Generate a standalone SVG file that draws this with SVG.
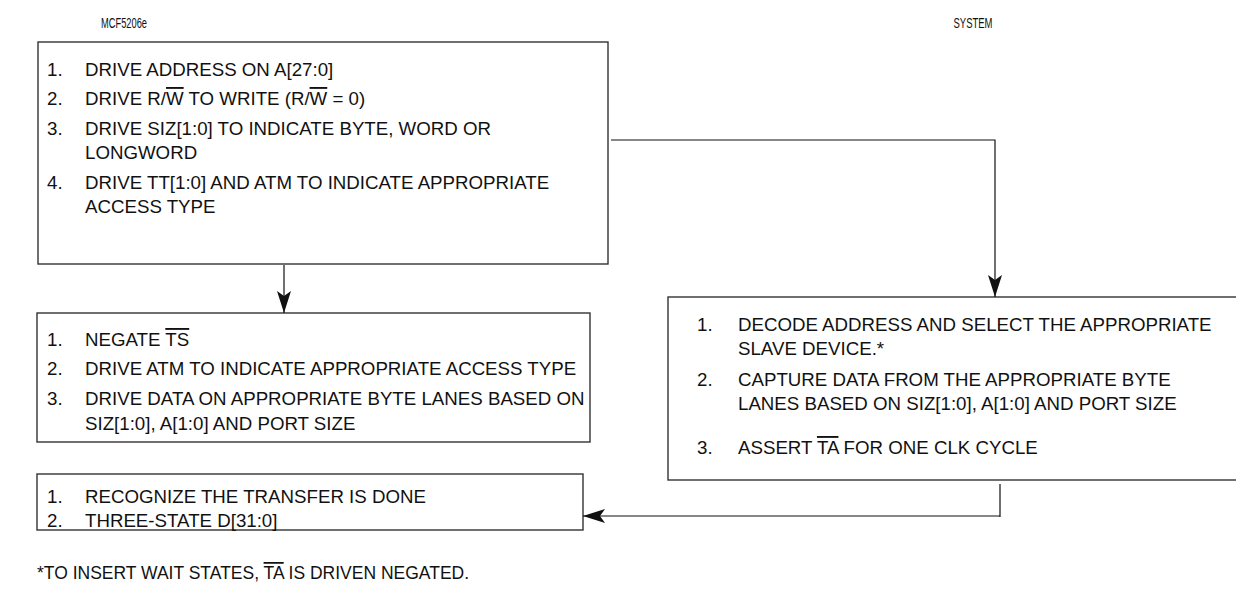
<svg xmlns="http://www.w3.org/2000/svg" width="1236" height="599" viewBox="0 0 1236 599">
  <style>
    .box { fill: #fff; stroke: #333; stroke-width: 1.4; }
    .t { font-family: "Liberation Sans", Arial, sans-serif; font-size: 18.7px; fill: #111; }
    .note { font-family: "Liberation Sans", Arial, sans-serif; font-size: 17.5px; fill: #111; }
    .hdr { font-family: "Liberation Sans", Arial, sans-serif; font-size: 15.5px; fill: #111; text-anchor: middle; }
    .ov { text-decoration: overline; }
    .wire { fill: none; stroke: #111; stroke-width: 1.2; }
  </style>
  <defs>
    <marker id="arrow" viewBox="0 0 22 14" refX="22" refY="7" markerWidth="22" markerHeight="14" markerUnits="userSpaceOnUse" orient="auto">
      <path d="M0,0 L22,7 L0,14 L5,7 Z" fill="#111"/>
    </marker>
  </defs>

  <rect width="1236" height="599" fill="#fff"/>

  <!-- column headings, set in a narrow face -->
  <text class="hdr" x="124" y="28" textLength="46" lengthAdjust="spacingAndGlyphs">MCF5206e</text>
  <text class="hdr" x="973" y="28" textLength="39" lengthAdjust="spacingAndGlyphs">SYSTEM</text>

  <g id="master-start">
    <rect class="box" x="38" y="42" width="570" height="222"/>
    <text class="t" x="47" y="76">1.</text><text class="t" x="85" y="76">DRIVE ADDRESS ON A[27:0]</text>
    <text class="t" x="47" y="105">2.</text><text class="t" x="85" y="105">DRIVE R/<tspan class="ov">W</tspan> TO WRITE (R/<tspan class="ov">W</tspan> = 0)</text>
    <text class="t" x="47" y="135">3.</text><text class="t" x="85" y="135">DRIVE SIZ[1:0] TO INDICATE BYTE, WORD OR</text>
    <text class="t" x="85" y="159">LONGWORD</text>
    <text class="t" x="47" y="189">4.</text><text class="t" x="85" y="189">DRIVE TT[1:0] AND ATM TO INDICATE APPROPRIATE</text>
    <text class="t" x="85" y="213">ACCESS TYPE</text>
  </g>

  <g id="master-data">
    <rect class="box" x="37" y="313" width="553" height="129"/>
    <text class="t" x="47" y="346">1.</text><text class="t" x="85" y="346">NEGATE <tspan class="ov">TS</tspan></text>
    <text class="t" x="47" y="375">2.</text><text class="t" x="85" y="375">DRIVE ATM TO INDICATE APPROPRIATE ACCESS TYPE</text>
    <text class="t" x="47" y="405">3.</text><text class="t" x="85" y="405">DRIVE DATA ON APPROPRIATE BYTE LANES BASED ON</text>
    <text class="t" x="85" y="430">SIZ[1:0], A[1:0] AND PORT SIZE</text>
  </g>

  <g id="master-end">
    <rect class="box" x="37" y="474" width="546" height="56"/>
    <text class="t" x="47" y="503">1.</text><text class="t" x="85" y="503">RECOGNIZE THE TRANSFER IS DONE</text>
    <text class="t" x="47" y="527">2.</text><text class="t" x="85" y="527">THREE-STATE D[31:0]</text>
  </g>

  <g id="system">
    <rect class="box" x="668" y="297" width="600" height="183"/>
    <text class="t" x="697" y="331">1.</text><text class="t" x="738" y="331">DECODE ADDRESS AND SELECT THE APPROPRIATE</text>
    <text class="t" x="738" y="355">SLAVE DEVICE.*</text>
    <text class="t" x="697" y="386">2.</text><text class="t" x="738" y="386">CAPTURE DATA FROM THE APPROPRIATE BYTE</text>
    <text class="t" x="738" y="410">LANES BASED ON SIZ[1:0], A[1:0] AND PORT SIZE</text>
    <text class="t" x="697" y="454">3.</text><text class="t" x="738" y="454">ASSERT <tspan class="ov">TA</tspan> FOR ONE CLK CYCLE</text>
  </g>

  <g id="connectors">
    <path class="wire" d="M284,265 V313" marker-end="url(#arrow)"/>
    <path class="wire" d="M611,140 H995 V297" marker-end="url(#arrow)"/>
    <path class="wire" d="M1000,484 V517 M1000,516 H583" marker-end="url(#arrow)"/>
  </g>

  <text class="note" x="37" y="579">*TO INSERT WAIT STATES, <tspan class="ov">TA</tspan> IS DRIVEN NEGATED.</text>
</svg>
